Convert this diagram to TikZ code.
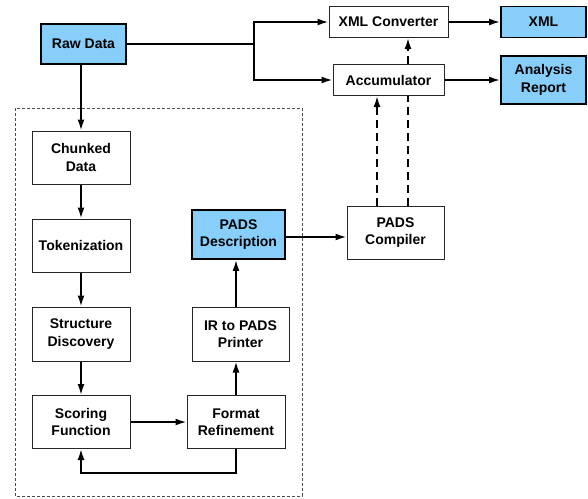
\documentclass[tikz,border=0pt]{standalone}
\usepackage{fontspec}
\setmainfont{Liberation Sans}
\usetikzlibrary{arrows.meta}
\definecolor{bluefill}{RGB}{135,206,250}
\begin{document}
\begin{tikzpicture}[x=1pt,y=-1pt,
  box/.style={draw=black!85, line width=1pt, fill=white, inner sep=0pt, align=center,
    font=\fontsize{14}{17.5}\selectfont\bfseries},
  bluebox/.style={box, draw=black, line width=1.8pt, fill=bluefill},
  arr/.style={line width=1.8pt, -{Latex[length=11pt,width=7pt]}},
  ln/.style={line width=1.8pt},
  dsh/.style={line width=1.8pt, dash pattern=on 8pt off 5pt},
  frame/.style={draw=black!70, line width=0.9pt, dash pattern=on 3pt off 2pt}]
\useasboundingbox (0,0) rectangle (588,498);
% dashed frame
\draw[frame] (15,108) rectangle (302,496);
% nodes
\node[bluebox, minimum width=85pt, minimum height=40pt] (raw) at (83.5,44) {Raw Data};
\node[box, minimum width=98pt, minimum height=53pt] (chunk) at (81,157.5) {Chunked\\Data};
\node[box, minimum width=98pt, minimum height=53pt] (tok) at (81,245.5) {Tokenization};
\node[box, minimum width=98pt, minimum height=54pt] (struct) at (81,334) {Structure\\Discovery};
\node[box, minimum width=98pt, minimum height=53pt] (score) at (81,422) {Scoring\\Function};
\node[box, minimum width=98pt, minimum height=53pt] (format) at (236,422) {Format\\Refinement};
\node[box, minimum width=97pt, minimum height=54pt] (ir) at (240.5,334) {IR to PADS\\Printer};
\node[bluebox, minimum width=93pt, minimum height=49pt] (desc) at (238.5,234.5) {PADS\\Description};
\node[box, minimum width=97pt, minimum height=53pt] (comp) at (395.5,232.5) {PADS\\Compiler};
\node[box, minimum width=111pt, minimum height=31pt] (acc) at (388.5,80) {Accumulator};
\node[box, minimum width=119pt, minimum height=31pt] (xmlc) at (388.5,22) {XML Converter};
\node[bluebox, minimum width=85pt, minimum height=31pt] (xml) at (543.5,22) {XML};
\node[bluebox, minimum width=85pt, minimum height=48pt] (rep) at (543.5,80) {Analysis\\Report};
\coordinate (j) at (254,44);
% connectors
\draw[ln] (raw.east) -- (j);
\draw[arr] (j) |- (xmlc.west);
\draw[arr] (j) |- (acc.west);
\draw[arr] (xmlc.east) -- (xml.west);
\draw[arr] (acc.east) -- (rep.west);
\draw[arr] (raw.south -| chunk.north) -- (chunk.north);
\draw[arr] (chunk) -- (tok);
\draw[arr] (tok) -- (struct);
\draw[arr] (struct) -- (score);
\draw[arr] (score.east) -- (format.west);
\draw[arr] (format.south) -- ++(0,24) -| (score.south);
\draw[arr] (format.north) -- (format.north |- ir.south);
\draw[arr] (format.north |- ir.north) -- (format.north |- desc.south);
\draw[arr] (desc.east |- 0,237) -- (comp.west |- 0,237);
\coordinate (c1) at (377,206);
\coordinate (c2) at (408,206);
\draw[dsh, -{Latex[length=11pt,width=7pt]}] (c1) -- (c1 |- acc.south);
\draw[dsh] (c2) -- (c2 |- acc.south);
\draw[dsh, -{Latex[length=11pt,width=7pt]}] (c2 |- acc.north) -- (c2 |- xmlc.south);
\end{tikzpicture}
\end{document}
